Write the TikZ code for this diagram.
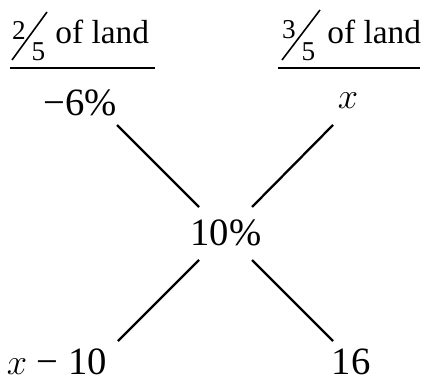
\documentclass[tikz,border=0pt]{standalone}
\usepackage{fontspec}
\setmainfont{Liberation Serif}
\usetikzlibrary{positioning}

\begin{document}
\begin{tikzpicture}[
        x=0.02cm, y=-0.02cm,
        head/.style={anchor=base west, inner sep=0pt, font=\fontsize{19}{21}\selectfont},
        fracdigit/.style={inner sep=0pt, font=\fontsize{15.5}{17}\selectfont},
        slash/.style={line width=0.9pt},
        val/.style={inner sep=0pt, font=\fontsize{22}{24}\selectfont},
        rule/.style={line width=1.5pt},
        leg/.style={line width=1.3pt}
    ]
    \useasboundingbox (0,0) rectangle (425,381);

    % Left column head
    \node (lnum) [fracdigit] at (19,30) {2};
    \node (lden) [fracdigit] at (38.5,51.5) {5};
    \coordinate (lslash1) at (12,60);
    \coordinate (lslash2) at (47,12);
    \draw [slash] (lslash1) -- (lslash2);
    \node (lland) [head] at (55,44) {of land};

    % Right column head
    \node (rnum) [fracdigit] at (289,30) {3};
    \node (rden) [fracdigit] at (308.5,51.5) {5};
    \coordinate (rslash1) at (282,60);
    \coordinate (rslash2) at (320,10);
    \draw [slash] (rslash1) -- (rslash2);
    \node (rland) [head] at (327,44) {of land};

    % Rules under the heads
    \coordinate (lrule1) at (10,68);
    \coordinate (lrule2) at (155,68);
    \coordinate (rrule1) at (278,68);
    \coordinate (rrule2) at (420,68);
    \draw [rule] (lrule1) -- (lrule2);
    \draw [rule] (rrule1) -- (rrule2);

    % Values
    \node (loss) [val] at (80,103) {−6\%};
    \node (gain) [val] at (348,101) {$x$};
    \node (mix) [val] at (226,233) {10\%};
    \node (lower) [val] at (57,362) {$x$ − 10};
    \node (sixteen) [val] at (351,362) {16};

    % Legs of the cross
    \coordinate (tl) at (117,125);
    \coordinate (tr) at (333,125);
    \coordinate (bl) at (118,341);
    \coordinate (br) at (333,341);
    \coordinate (ctl) at (199,207);
    \coordinate (ctr) at (252,207);
    \coordinate (cbl) at (199,260);
    \coordinate (cbr) at (252,260);
    \draw [leg] (tl) -- (ctl);
    \draw [leg] (tr) -- (ctr);
    \draw [leg] (cbl) -- (bl);
    \draw [leg] (cbr) -- (br);

\end{tikzpicture}
\end{document}
